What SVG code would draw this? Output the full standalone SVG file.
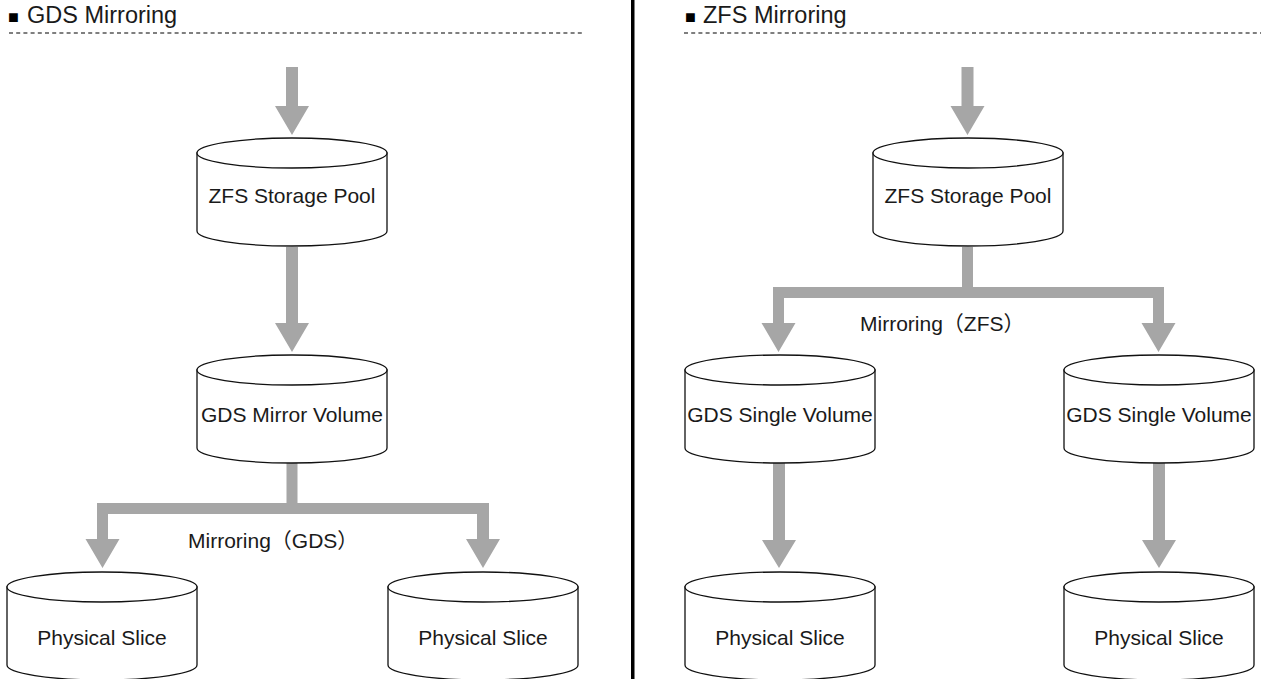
<svg xmlns="http://www.w3.org/2000/svg" xmlns:xlink="http://www.w3.org/1999/xlink" width="1261" height="679" viewBox="0 0 1261 679">
  <style>
    .title { font-family: "Liberation Sans", Arial, sans-serif; font-size: 23.5px; fill: #1a1a1a; }
    .bullet { font-family: "Liberation Sans", "DejaVu Sans", sans-serif; font-size: 18px; fill: #000; }
    .node { font-family: "Liberation Sans", Arial, sans-serif; font-size: 21px; fill: #1a1a1a; text-anchor: middle; }
    .label { font-family: "Liberation Sans", "Noto Sans CJK JP", sans-serif; font-size: 21px; fill: #1a1a1a; }
    .dash { stroke: #555; stroke-width: 1.6; stroke-dasharray: 4 3.2; fill: none; }
    .arr { fill: #a6a6a6; stroke: none; }
    .cyl { fill: #fff; stroke: #111; stroke-width: 1.3; }
  </style>
  <defs>
    <g id="cylinder">
      <path class="cyl" d="M-95,0 L-95,78 A95,15 0 0 0 95,78 L95,0 Z"/>
      <ellipse class="cyl" cx="0" cy="0" rx="95" ry="15"/>
    </g>
  </defs>
  <rect width="1261" height="679" fill="#fff"/>

  <!-- headers and separator -->
  <g id="header-left">
    <text class="title" y="23"><tspan class="bullet" x="8">■</tspan><tspan x="27">GDS Mirroring</tspan></text>
    <line class="dash" x1="9" y1="33" x2="583" y2="33"/>
  </g>
  <g id="header-right">
    <text class="title" y="23"><tspan class="bullet" x="685">■</tspan><tspan x="703">ZFS Mirroring</tspan></text>
    <line class="dash" x1="684" y1="33" x2="1261" y2="33"/>
  </g>
  <rect id="separator" x="631" y="0" width="3.5" height="679" fill="#000"/>

  <!-- connectors -->
  <g id="connectors">
    <!-- left -->
    <polygon class="arr" points="286,67 298,67 298,106 309,106 292,135 275,106 286,106"/>
    <polygon class="arr" points="286,247 298,247 298,323 309,323 292,352 275,323 286,323"/>
    <polygon class="arr" points="286.5,463 297.5,463 297.5,503 489,503 489,539 500,539 483,568 466,539 477,539 477,514 108,514 108,539 119.5,539 102.5,568 85.5,539 97,539 97,503 286.5,503"/>
    <!-- right -->
    <polygon class="arr" points="961.5,67 973.5,67 973.5,106 984.5,106 967.5,135 950.5,106 961.5,106"/>
    <polygon class="arr" points="962,247 973,247 973,287 1164,287 1164,323 1175.5,323 1158.5,352 1141.5,323 1153,323 1153,298 784,298 784,323 795.5,323 778.5,352 761.5,323 773,323 773,287 962,287"/>
    <polygon class="arr" points="773,463 785,463 785,540 796,540 779,568 762,540 773,540"/>
    <polygon class="arr" points="1153,463 1165,463 1165,540 1176,540 1159,568 1142,540 1153,540"/>
    <text class="label" x="188" y="548">Mirroring（GDS）</text>
    <text class="label" x="860" y="331">Mirroring（ZFS）</text>
  </g>

  <!-- left nodes -->
  <g id="l-pool">
    <use xlink:href="#cylinder" transform="translate(292,153)"/>
    <text class="node" x="292" y="203">ZFS Storage Pool</text>
  </g>
  <g id="l-mirror">
    <use xlink:href="#cylinder" transform="translate(292,370)"/>
    <text class="node" x="292" y="422">GDS Mirror Volume</text>
  </g>
  <g id="l-slice1">
    <use xlink:href="#cylinder" transform="translate(102,587)"/>
    <text class="node" x="102" y="645">Physical Slice</text>
  </g>
  <g id="l-slice2">
    <use xlink:href="#cylinder" transform="translate(483,587)"/>
    <text class="node" x="483" y="645">Physical Slice</text>
  </g>

  <!-- right nodes -->
  <g id="r-pool">
    <use xlink:href="#cylinder" transform="translate(968,153)"/>
    <text class="node" x="968" y="203">ZFS Storage Pool</text>
  </g>
  <g id="r-single1">
    <use xlink:href="#cylinder" transform="translate(780,370)"/>
    <text class="node" x="780" y="422">GDS Single Volume</text>
  </g>
  <g id="r-single2">
    <use xlink:href="#cylinder" transform="translate(1159,370)"/>
    <text class="node" x="1159" y="422">GDS Single Volume</text>
  </g>
  <g id="r-slice1">
    <use xlink:href="#cylinder" transform="translate(780,587)"/>
    <text class="node" x="780" y="645">Physical Slice</text>
  </g>
  <g id="r-slice2">
    <use xlink:href="#cylinder" transform="translate(1159,587)"/>
    <text class="node" x="1159" y="645">Physical Slice</text>
  </g>
</svg>
